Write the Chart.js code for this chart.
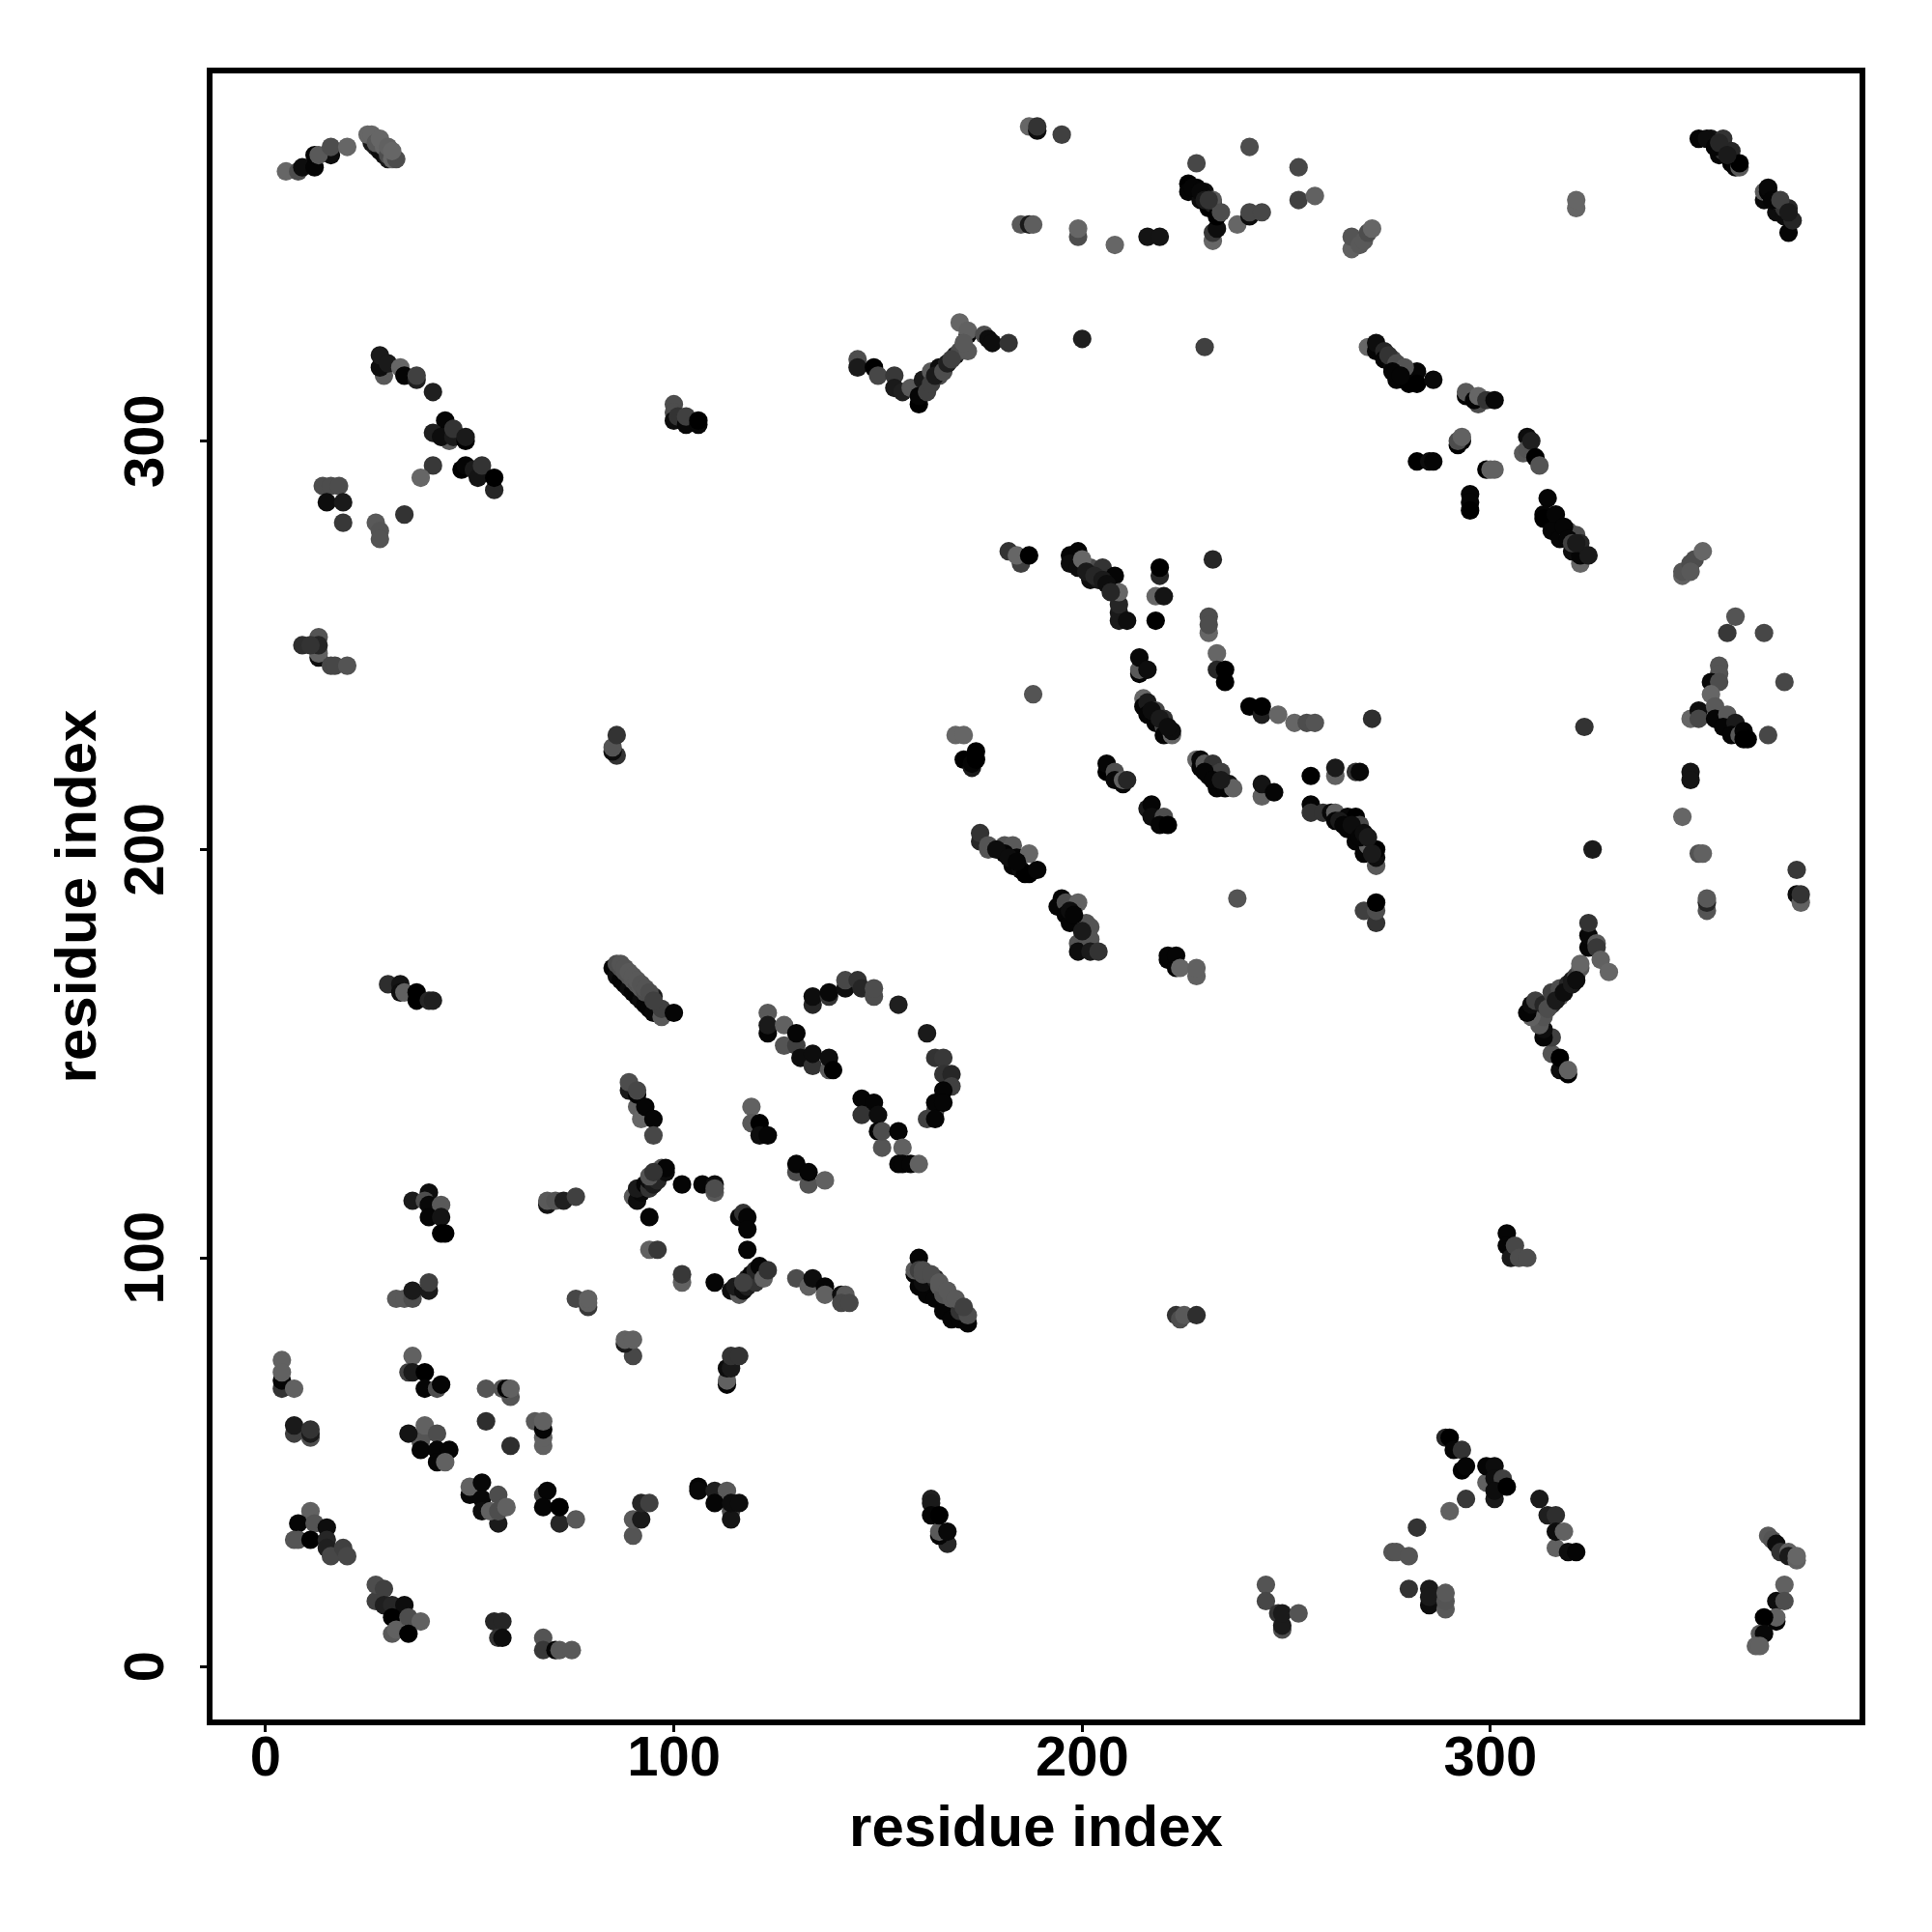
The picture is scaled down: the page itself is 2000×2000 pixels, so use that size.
<!DOCTYPE html>
<html>
<head>
<meta charset="utf-8">
<title>residue index</title>
<script src="https://cdn.jsdelivr.net/npm/chart.js@4/dist/chart.umd.min.js"></script>
<style>
    html, body { margin: 0; padding: 0; background: #ffffff; }
    canvas { display: block; }
</style>
</head>
<body>
<canvas id="contacts" width="2000" height="2000"></canvas>
<script>
const xTicks = [0, 100, 200, 300];
const yTicks = [0, 100, 200, 300];
const xTitle = "residue index";
const yTitle = "residue index";

// one line per clump of points, same order in all three arrays, later points sit on top
const residueI = [
    5,8,9,12,12,16,13,16,20,
    26,27,28,29,30,25,26,27,29,30,31,32,28,30,31,
    29,28,28,30,33,34,37,37,41,
    45,44,41,43,46,46,49,49,
    41,38,48,49,51,52,53,56,56,
    14,16,18,15,19,19,27,28,28,34,
    100,100,100,101,103,103,106,106,
    187,189,189,195,228,241,253,253,257,
    185,187,188,199,199,208,216,219,
    232,232,233,226,226,228,229,230,231,232,233,232,234,238,241,241,244,227,229,230,231,
    145,145,149,150,154,154,156,158,160,160,161,162,163,165,165,167,169,170,172,170,172,172,176,177,178,182,163,164,166,167,168,171,
    200,230,
    182,185,184,187,
    197,199,197,199,202,202,205,204,208,209,209,209,211,200,209,201,203,205,206,207,
    219,219,218,220,232,218,231,231,231,233,
    266,266,268,269,270,271,321,321,
    351,354,355,356,357,357,359,359,360,361,361,353,355,356,358,
    367,367,368,370,370,372,372,373,373,374,368,369,371,373,
    270,272,272,274,274,276,276,277,278,280,280,280,282,282,286,275,277,279,276,278,
    294,294,297,296,297,299,301,
    292,293,292,293,282,285,286,299,300,301,
    308,309,309,310,311,312,295,295,295,
    322,314,313,313,316,315,317,319,320,321,322,322,324,318,319,320,321,
    347,347,349,350,349,352,360,
    13,13,13,13,9,11,16,17,20,
    86,85,85,86,
    30,33,33,34,37,37,40,41,
    85,86,87,88,89,90,91,92,93,94,95,
    86,87,88,89,90,91,92,93,95,97,97,100,87,88,89,90,91,92,93,94,95,
    91,92,89,91,89,91,93,95,95,
    119,119,121,121,123,130,130,133,133,137,
    214,214,214,216,233,235,235,
    241,244,244,248,252,255,257,188,
    169,171,171,173,173,174,174,
    215,215,216,216,218,218,220,220,220,222,222,217,219,221,
    228,229,229,230,232,231,234,233,236,235,237,230,232,234,
    244,244,247,256,
    206,206,208,208,210,210,211,
    216,217,217,220,219,221,
    175,175,177,177,181,183,181,184,187,183,185,186,187,189,179,182,184,
    199,199,195,194,196,196,197,199,201,202,202,202,204,238,197,198,200,
    221,221,223,223,224,228,228,
    134,134,138,138,142,142,145,146,149,149,155,162,
    164,166,166,168,168,166,164,164,166,162,164,
    123,123,123,127,127,130,130,131,134,134,138,138,139,
    146,149,146,150,150,151,151,155,156,155,156,158,160,
    40,36,39,40,43,40,43,43,44,
    69,69,71,73,76,
    90,91,92,91,93,94,94,95,96,97,96,98,98,94,95,
    102,94,107,110,110,110,
    116,117,118,118,118,94,96,102,102,110,
    114,116,115,117,118,118,119,120,120,121,122,123,117,
    130,133,134,137,137,141,142,141,143,
    159,160,162,164,166,168,170,172,162,161,159,160,160,161,164,165,166,168,170,172,161,163,165,167,169,171,
    223,224,225,228,
    163,163,167,165,165,163,165,167,
    245,245,248,249,249,249,253,
    32,34,36,36,40,40,
    76,79,79,79,90,88,88,90,
    113,113,113,114,114,116,
    4,4,4,4,7,7,7,11,11,11,
    36,35,36,39,39,42,43,
    38,39,35,39,42,38,42,45,42,44,
    54,60,54,58,60,59,60,
    66,68,68,68,68,
    50,50,53,53,53,57,57,55,57,59,
    68,69,68,72,72,76,
    90,90,92,92,94,
    106,106,110,113,114,110,114,114,116,
    11,8,12,15,7,8,11,15,15,16,19,20,
    27,27,29,29,31,34,31,31,32,35,38,35,
    56,58,57,58,68,68,71,72,75,
    304,304,305,306,307,309,
    289,290,291,293,293,294,
    299,299,301,301,303,301,301,304,
    312,314,316,316,316,318,319,321,
    294,290,282,276,277,280,
    280,285,285,285,289,289,289,
    368,369,370,371,373,373,375,375,
    372,370,372,370,370,367,366,367,365,366,
    358,367,356,356,354,356,372,354,
    349,351,351,355,355,358,357,360,359,361,362,362,363,368,
    323,325,349,349,347,351,352,
    375,375,376,376,353,353,353,
    262,262,267,268,271,
    256,256,259,261,262,262,265,267,265,268,267,269,270,272,272,272,263,264,266,268,269,270,271,
    269,272,272,272,
    315,317,317,319,319,315,313,313,312,313,310,309,310,311,313,315,315,317,317,319,320,321,322,322,324,324,324,326,326,327,329,314,316,318,320,321
];

const residueJ = [
    366,366,367,367,370,370,370,372,372,
    373,372,371,370,369,375,375,373,372,370,369,369,374,372,371,
    316,318,321,319,318,316,315,316,312,
    300,305,302,301,301,303,300,301,
    294,291,293,294,293,291,294,288,291,
    289,289,289,285,285,280,280,278,276,282,
    309,307,305,306,304,306,304,305,
    377,376,377,375,368,372,367,359,360,
    353,353,353,350,352,348,350,350,
    349,351,352,363,361,362,359,361,357,358,355,359,356,353,355,356,356,362,361,359,359,
    320,318,318,316,316,313,312,313,309,311,315,312,317,318,316,319,321,322,322,329,326,327,326,325,324,324,314,316,317,319,320,324,
    325,323,
    273,270,272,272,
    272,273,270,269,269,266,269,266,267,256,258,260,256,271,263,268,267,266,265,263,
    267,269,262,262,271,256,253,257,255,248,
    347,350,348,349,351,352,357,359,
    374,374,372,370,374,371,371,368,367,367,368,374,372,373,370,
    359,361,361,356,359,355,357,351,357,354,362,359,359,356,
    323,322,324,322,320,320,318,315,318,316,317,314,317,314,315,321,319,318,317,316,
    311,312,309,310,311,310,310,
    299,300,300,301,295,295,295,293,293,293,
    297,301,298,300,296,294,287,285,283,
    270,286,282,281,282,278,276,278,273,277,272,275,272,279,276,275,275,
    267,268,270,271,268,273,257,
    247,248,252,250,250,250,245,245,245,
    223,224,225,228,
    167,167,165,165,165,163,163,163,
    171,169,168,167,166,165,164,163,162,161,160,
    172,171,170,169,168,167,166,165,164,159,161,160,172,171,170,169,168,167,166,165,163,
    137,134,141,140,143,141,137,134,130,
    137,133,133,130,130,121,123,118,121,119,
    243,244,247,244,244,244,241,
    235,233,235,233,231,231,231,238,
    228,228,222,220,221,222,224,
    237,235,236,233,234,231,232,230,228,228,229,234,232,230,
    222,222,220,221,221,218,219,215,216,215,215,219,217,217,
    213,216,214,218,
    219,221,219,217,216,217,217,
    210,211,208,208,206,206,
    202,204,200,201,201,201,199,198,199,196,195,194,194,195,200,198,197,
    177,175,188,186,187,184,182,187,182,181,178,175,175,188,185,184,180,
    173,174,171,174,171,169,171,
    162,164,164,165,166,168,168,166,164,166,162,155,
    149,149,145,145,142,141,136,138,138,134,134,
    160,155,157,152,157,152,155,149,147,150,146,149,146,
    139,138,135,135,131,127,131,131,127,123,123,123,123,
    116,114,114,113,113,110,110,106,106,
    113,114,114,114,115,
    115,114,116,117,118,117,119,118,120,122,119,121,122,120,121,
    118,110,118,116,118,117,
    110,111,110,107,102,102,102,94,96,94,
    92,91,93,92,93,95,96,94,97,98,95,97,94,
    95,93,95,93,91,91,91,89,89,
    96,93,91,90,87,85,85,84,95,94,97,100,97,96,95,93,91,90,87,86,97,96,94,92,90,88,
    86,85,86,86,
    41,40,30,32,33,37,37,33,
    20,16,13,9,10,13,13,
    90,90,90,92,92,94,
    90,88,89,90,76,79,80,80,
    69,70,73,73,76,76,
    75,68,70,72,68,57,59,56,57,58,
    76,72,72,72,68,68,69,
    55,57,57,59,57,53,53,53,50,50,
    60,54,68,68,66,68,68,
    60,54,56,58,60,
    42,44,45,41,38,35,42,38,38,39,
    42,43,39,35,39,36,
    32,36,36,40,40,
    44,43,43,43,38,40,36,40,40,
    38,35,35,34,31,31,31,31,29,27,29,27,
    16,20,19,15,15,15,12,8,9,12,11,8,
    11,11,7,7,7,4,4,4,4,
    106,103,100,103,100,100,
    56,56,53,53,48,49,
    45,49,49,46,46,41,43,44,
    41,37,37,29,33,33,28,28,
    41,38,34,28,28,27,
    19,19,15,17,14,16,18,
    32,31,30,28,28,27,26,27,
    20,16,16,11,12,12,8,8,5,5,
    253,253,245,243,241,241,241,238,
    232,234,232,235,232,233,230,231,228,228,229,227,227,228,
    230,200,219,217,208,199,199,
    195,189,187,189,185,187,188,
    218,220,219,219,232,
    211,209,209,209,209,207,208,208,205,206,202,199,201,196,198,200,207,206,206,203,204,203,199,
    185,182,185,187,
    150,146,149,145,146,154,154,156,157,159,159,160,162,163,162,162,165,164,166,167,168,169,171,172,176,179,182,177,176,173,170,161,163,165,167,168
];

// darkness of each point, 0 is black and 0.4 is the palest grey in the picture
const shade = [
    .4,.3,.05,.02,.02,.05,.35,.3,.4,
    .1,.1,.05,.05,.1,.4,.4,.35,.4,.3,.4,.3,.4,.38,.4,
    .35,.05,.1,.1,.4,.02,.12,.25,.12,
    .35,.02,.12,.05,.1,.2,0,.1,
    .22,.4,0,.02,.1,.08,.2,.15,0,
    .3,.3,.3,.05,.1,.22,.35,.33,.33,.2,
    .3,.3,.05,.2,.03,.25,.03,0,
    .4,.05,.2,.25,.28,.3,.28,.25,.38,
    .35,.1,.37,.3,.4,.4,.08,.08,
    .4,.22,.05,0,.02,.02,.05,.05,0,.1,0,.35,.3,.4,.05,.28,.28,.02,.03,.1,.2,
    .3,.1,0,.28,.22,.1,.12,.35,0,.02,.1,.25,.35,.05,.3,.2,.1,.3,.35,.4,.02,.38,.3,.05,.05,.2,.25,.1,.3,.12,.25,.35,
    .12,.25,
    .2,.25,.4,0,
    .02,.02,.05,.05,.3,.05,.2,.1,.02,.1,.1,.15,.05,.4,.4,.1,.15,.1,.05,.15,
    .15,0,.4,.08,.15,0,.4,.3,.3,.4,
    .38,.33,.35,.35,.3,.4,.4,.4,
    .02,.08,0,.02,.2,.2,.15,0,.02,.35,0,.05,.02,.15,.1,
    .03,.35,.02,.05,.25,.05,.2,.02,.15,.15,.03,.02,.25,.1,
    .4,.02,.05,.15,.02,.3,.05,.02,.32,.35,.2,0,.02,0,.03,.2,.3,.33,.02,.02,
    .02,.35,.3,.02,.4,.2,.03,
    0,.02,.3,.38,0,.05,.02,0,.38,.38,
    .35,.05,.33,.12,0,.33,.02,.02,0,
    .4,.02,.02,0,.02,.02,.02,.33,.05,.3,.02,.15,.1,.02,.02,.25,.1,
    .38,.33,.3,.3,.35,.4,.33,
    .05,.38,.33,.15,.18,.2,.28,.28,.33,
    .2,.05,.33,.2,
    .18,.08,.05,.38,0,0,.15,.12,
    .02,.05,.02,.02,.05,.02,.02,.05,.02,.02,.03,
    .3,.3,.33,.33,.35,.33,.35,.3,.1,.35,.25,.02,.33,.33,.35,.35,.35,.33,.33,.3,.25,
    .38,.4,.1,0,.3,.28,.02,.02,.28,
    .38,.35,0,.05,.02,.3,.02,.33,.02,.38,
    .02,.35,.03,.05,.15,0,0,
    0,.12,0,.4,.4,.3,.33,.33,
    .4,.4,0,.1,.02,0,0,
    .4,.02,.1,.02,.28,.02,.2,.3,.02,.4,.05,.05,.1,.05,
    .4,.03,.02,.35,.2,.05,.25,.02,.08,.02,.38,.02,.02,.1,
    .38,.08,.02,0,
    0,.02,.3,.03,.03,.38,.15,
    .1,.02,.05,.3,.02,0,
    .15,.2,.33,.33,.33,.35,.02,.02,.4,.02,.05,0,0,.02,.05,.05,.02,
    .33,.05,.02,.02,.3,.02,.02,.38,.33,.33,.33,.1,.2,.33,.05,.02,.1,
    .02,.02,.02,.02,.4,.38,.38,
    .15,.05,.2,.03,.05,.28,.2,.15,.3,.3,.12,.1,
    .2,.22,.2,.15,.25,.02,.3,.02,.02,.25,.02,
    .35,.02,.1,.33,.38,.25,.02,.05,.2,.05,.35,.05,0,
    .02,.02,.2,.05,.02,.33,.3,.02,.38,.02,.02,.02,.38,
    .05,.1,.3,.03,.35,.02,.08,0,0,
    .08,.35,.33,.12,.25,
    .35,.05,.03,.1,.02,.2,.05,.1,.03,.33,.15,.05,.02,.33,.2,
    .02,.02,.02,.35,.05,.3,
    .03,.2,.02,.02,.02,.38,.22,.38,.22,.02,
    .05,.35,.1,.05,.12,.1,.02,.2,.15,.02,.38,.2,.25,
    .3,.38,.05,.02,.38,.05,.35,.28,.28,
    .02,.02,.02,.02,.02,.02,.02,.02,.02,.05,.35,.02,.25,.3,.15,.35,.33,.35,.2,.3,.3,.3,.35,.35,.35,.25,
    .2,.3,.35,.18,
    .12,.1,.15,.02,.35,.02,0,.03,
    .33,.28,.2,.3,.1,.1,.33,
    .35,.35,.3,.1,.1,.25,
    .28,.22,.38,.38,.28,.1,.38,.38,
    .02,.38,.05,.1,.2,.2,
    .38,.2,.02,.38,.38,.25,.1,.3,.1,.2,
    .38,.25,.1,0,.02,.3,.02,
    .35,.33,.08,.38,.3,.02,.02,.02,.02,.38,
    .18,.18,.33,.33,.33,.02,.38,
    .35,.38,.38,.02,.38,
    .03,.38,.03,.03,.05,.1,.3,.38,.3,.38,
    .25,.02,.02,.15,0,.35,
    .33,.35,.1,.15,.25,
    .02,.03,.12,.35,.3,.02,.08,.05,.05,
    .38,.02,.33,.05,.33,.33,0,.15,.12,.28,.25,.28,
    .25,.3,.25,.12,.15,.05,0,.35,.38,.3,.38,0,
    .15,.15,.2,.05,.33,.22,.02,.35,.35,
    .02,.02,.1,.28,.3,.3,
    .15,0,.02,.2,0,.02,
    .38,.02,.05,.05,.25,.1,.05,0,
    .1,.12,.18,.38,.05,.38,.05,.02,
    .22,.38,.2,.33,.33,.33,
    .2,.1,.05,.1,.35,.33,.35,
    .35,.33,.05,.2,.38,.1,.38,.4,
    .38,.05,.3,.02,.38,0,.35,.03,.38,.38,
    .22,.28,.33,.33,.03,.3,.28,.4,
    .4,.05,.28,.35,.02,.35,.02,.1,.02,.35,.02,0,0,.28,
    .2,.1,.08,.08,.4,.33,.38,
    .22,.05,.38,.2,.33,.15,.35,
    .38,.1,.2,.03,.18,
    .02,.2,.2,.03,.38,.02,.03,0,.02,.28,.02,.02,.38,.35,.05,0,.1,.02,.05,.02,.05,.1,.1,
    .25,.2,.3,0,
    .33,.05,0,0,.38,.25,.02,.05,.35,.33,.38,.02,.05,.25,.15,.2,.25,.35,.3,.15,.1,.25,.35,.4,.02,.03,.2,.35,.22,.38,.4,.3,.1,.05,.1,.05
];

let pointData = [];
let pointColors = [];
for (let k = 0; k < residueI.length; k++) {
    pointData.push({ x: residueI[k], y: residueJ[k] });
    let grey = Math.round(shade[k] * 255);
    pointColors.push("rgb(" + grey + "," + grey + "," + grey + ")");
}
console.log(residueI.length, residueJ.length, shade.length);

// box round the plot, the scales only give one side each
const framePlugin = {
    id: "frame",
    afterDatasetsDraw(chart) {
        const area = chart.chartArea;
        const ctx = chart.ctx;
        ctx.save();
        ctx.strokeStyle = "#000000";
        ctx.lineWidth = 6;
        ctx.strokeRect(area.left, area.top, area.right - area.left, area.bottom - area.top);
        ctx.restore();
    }
};

const tickFont = { family: "Liberation Sans", size: 58, weight: "bold" };
const titleFont = { family: "Liberation Sans", size: 60, weight: "bold" };

let contacts = document.getElementById("contacts").getContext("2d");

let contactChart = new Chart(contacts, {
    type: "scatter",
    data: {
        datasets: [{
            label: "contacts",
            data: pointData,
            backgroundColor: pointColors,
            borderWidth: 0,
            pointRadius: 9.6,
            pointHoverRadius: 9.6
        }]
    },
    options: {
        responsive: false,
        animation: false,
        devicePixelRatio: 1,
        layout: { padding: { top: 73, right: 72, left: 0, bottom: 0 } },
        plugins: {
            legend: { display: false },
            tooltip: { enabled: false }
        },
        scales: {
            x: {
                type: "linear",
                min: -13.7,
                max: 391.1,
                border: { display: false },
                grid: { drawOnChartArea: false, tickLength: 10, tickWidth: 3, tickColor: "#000000" },
                ticks: { color: "#000000", font: tickFont, padding: -6, maxRotation: 0, autoSkip: false },
                title: { display: true, text: xTitle, color: "#000000", font: titleFont, padding: { top: 0, bottom: 70 } },
                afterBuildTicks: function(scale) {
                    scale.ticks = xTicks.map(v => ({ value: v }));
                },
                afterFit: function(scale) {
                    scale.height = 217;
                }
            },
            y: {
                type: "linear",
                min: -13.7,
                max: 390.7,
                border: { display: false },
                grid: { drawOnChartArea: false, tickLength: 10, tickWidth: 3, tickColor: "#000000" },
                ticks: { color: "#000000", font: tickFont, padding: 6, minRotation: 90, maxRotation: 90, crossAlign: "center", autoSkip: false },
                title: { display: true, text: yTitle, color: "#000000", font: titleFont, padding: { top: 46, bottom: 0 } },
                afterBuildTicks: function(scale) {
                    scale.ticks = yTicks.map(v => ({ value: v }));
                },
                afterFit: function(scale) {
                    scale.width = 217;
                }
            }
        }
    },
    plugins: [framePlugin]
});
</script>
</body>
</html>
